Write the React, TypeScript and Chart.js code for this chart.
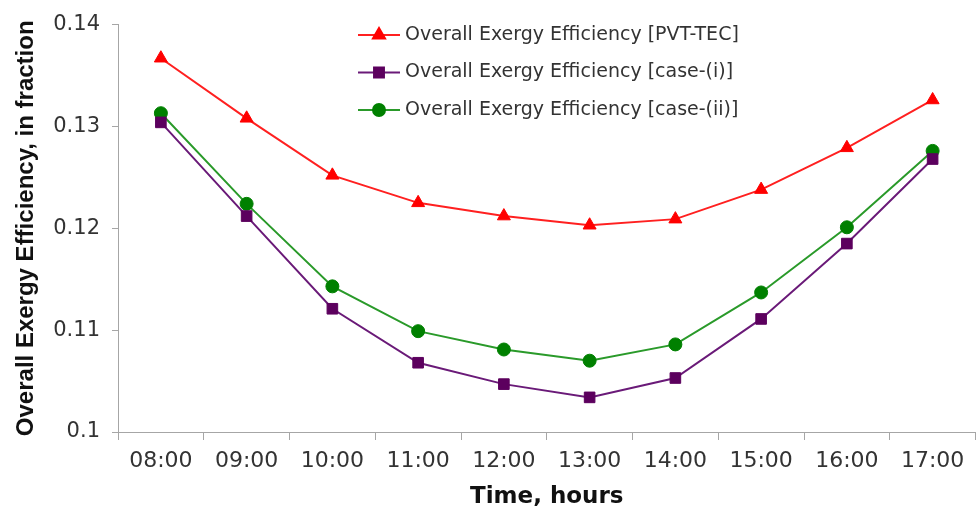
import React, { useEffect, useRef } from 'react';
import { Chart, registerables } from 'chart.js';
import { drawPoint } from 'chart.js/helpers';

Chart.register(...registerables);

const hours = ['08:00', '09:00', '10:00', '11:00', '12:00', '13:00', '14:00', '15:00', '16:00', '17:00'];
const pvtTec = [0.1367, 0.1308, 0.1252, 0.1225, 0.1212, 0.1203, 0.1209, 0.1238, 0.1279, 0.1326];
const caseI = [0.1304, 0.1212, 0.1121, 0.1068, 0.1047, 0.1034, 0.1053, 0.1111, 0.1185, 0.1268];
const caseII = [0.1313, 0.1224, 0.1143, 0.1099, 0.1081, 0.1070, 0.1086, 0.1137, 0.1201, 0.1276];
const yTicks = [0.1, 0.11, 0.12, 0.13, 0.14];
const seriesNames = [
  'Overall Exergy Efficiency [PVT-TEC]',
  'Overall Exergy Efficiency [case-(i)]',
  'Overall Exergy Efficiency [case-(ii)]',
];
const xTitle = 'Time, hours';
const yTitle = 'Overall Exergy Efficiency, in fraction';

const TICK_FONT = 'DejaVu Sans, Verdana, sans-serif';

const legendPlugin = {
  id: 'insideLegend',
  afterDatasetsDraw(chart: any) {
    const ctx = chart.ctx;
    const x0 = 358;
    const lineLen = 42;
    const y0 = 35;
    const gap = 37.5;
    chart.data.datasets.forEach((ds: any, i: number) => {
      const y = y0 + i * gap;
      ctx.save();
      ctx.strokeStyle = ds.borderColor;
      ctx.lineWidth = 2;
      ctx.beginPath();
      ctx.moveTo(x0, y);
      ctx.lineTo(x0 + lineLen, y);
      ctx.stroke();
      ctx.fillStyle = ds.pointBackgroundColor;
      ctx.strokeStyle = ds.pointBackgroundColor;
      drawPoint(ctx, { pointStyle: ds.pointStyle, radius: ds.pointRadius - 0.5, rotation: 0, borderWidth: 1 }, x0 + lineLen / 2, y);
      ctx.fillStyle = '#333333';
      ctx.font = '19px ' + TICK_FONT;
      ctx.textBaseline = 'middle';
      ctx.textAlign = 'left';
      ctx.fillText(ds.label, x0 + lineLen + 5, y);
      ctx.restore();
    });
  },
};

export default function App() {
  const ref = useRef<HTMLCanvasElement | null>(null);
  useEffect(() => {
    if (!ref.current) return;
    const chart = new Chart(ref.current, {
      type: 'line',
      data: {
        labels: hours,
        datasets: [
          {
            label: seriesNames[0],
            data: pvtTec,
            borderColor: '#ff2020',
            borderWidth: 2,
            pointStyle: 'triangle',
            pointRadius: 7.5,
            pointBackgroundColor: '#ff0000',
            pointBorderColor: '#ff0000',
            pointBorderWidth: 1,
          },
          {
            label: seriesNames[1],
            data: caseI,
            borderColor: '#6a1a78',
            borderWidth: 2,
            pointStyle: 'rect',
            pointRadius: 7.5,
            pointBackgroundColor: '#5c005e',
            pointBorderColor: '#5c005e',
            pointBorderWidth: 1,
          },
          {
            label: seriesNames[2],
            data: caseII,
            borderColor: '#2a9a2a',
            borderWidth: 2,
            pointStyle: 'circle',
            pointRadius: 6.5,
            pointBackgroundColor: '#008000',
            pointBorderColor: '#008000',
            pointBorderWidth: 1,
          },
        ],
      },
      options: {
        animation: false,
        responsive: true,
        maintainAspectRatio: false,
        layout: { padding: { top: 16, right: 2, left: 0, bottom: 0 } },
        plugins: {
          legend: { display: false },
          tooltip: { enabled: false },
        },
        scales: {
          x: {
            type: 'category',
            offset: true,
            grid: { display: true, offset: true, drawOnChartArea: false, drawTicks: true, tickLength: 8, color: '#a6a6a6' },
            border: { color: '#a6a6a6', width: 1 },
            ticks: { color: '#333333', font: { family: TICK_FONT, size: 22 }, padding: 8, maxRotation: 0, autoSkip: false },
            title: { display: true, text: xTitle, color: '#111111', font: { family: TICK_FONT, size: 23, weight: 'bold' }, padding: { top: 0, bottom: 2 } },
            afterFit(scale: any) { scale.height = 81; },
          },
          y: {
            min: 0.1,
            max: 0.14,
            afterBuildTicks(scale: any) { scale.ticks = yTicks.map((v) => ({ value: v })); },
            grid: { display: true, drawOnChartArea: false, drawTicks: true, tickLength: 6, color: '#a6a6a6' },
            border: { color: '#a6a6a6', width: 1 },
            ticks: {
              color: '#333333',
              font: { family: TICK_FONT, size: 21 },
              padding: 12,
              callback: (v: any) => String(Number(Number(v).toFixed(2))),
            },
            title: { display: true, text: yTitle, color: '#111111', font: { family: '"Liberation Sans", Arial, sans-serif', size: 24, weight: 'bold' }, padding: { top: 12, bottom: 0 } },
            afterFit(scale: any) { scale.width = 118; },
          },
        },
      },
      plugins: [legendPlugin],
    });
    return () => chart.destroy();
  }, []);
  return (
    <div style={{ position: 'fixed', left: 0, top: 0, width: 976, height: 513, overflow: 'hidden', background: '#fff' }}>
      <div style={{ position: 'relative', width: 984, height: 513 }}>
        <canvas ref={ref} />
      </div>
    </div>
  );
}
